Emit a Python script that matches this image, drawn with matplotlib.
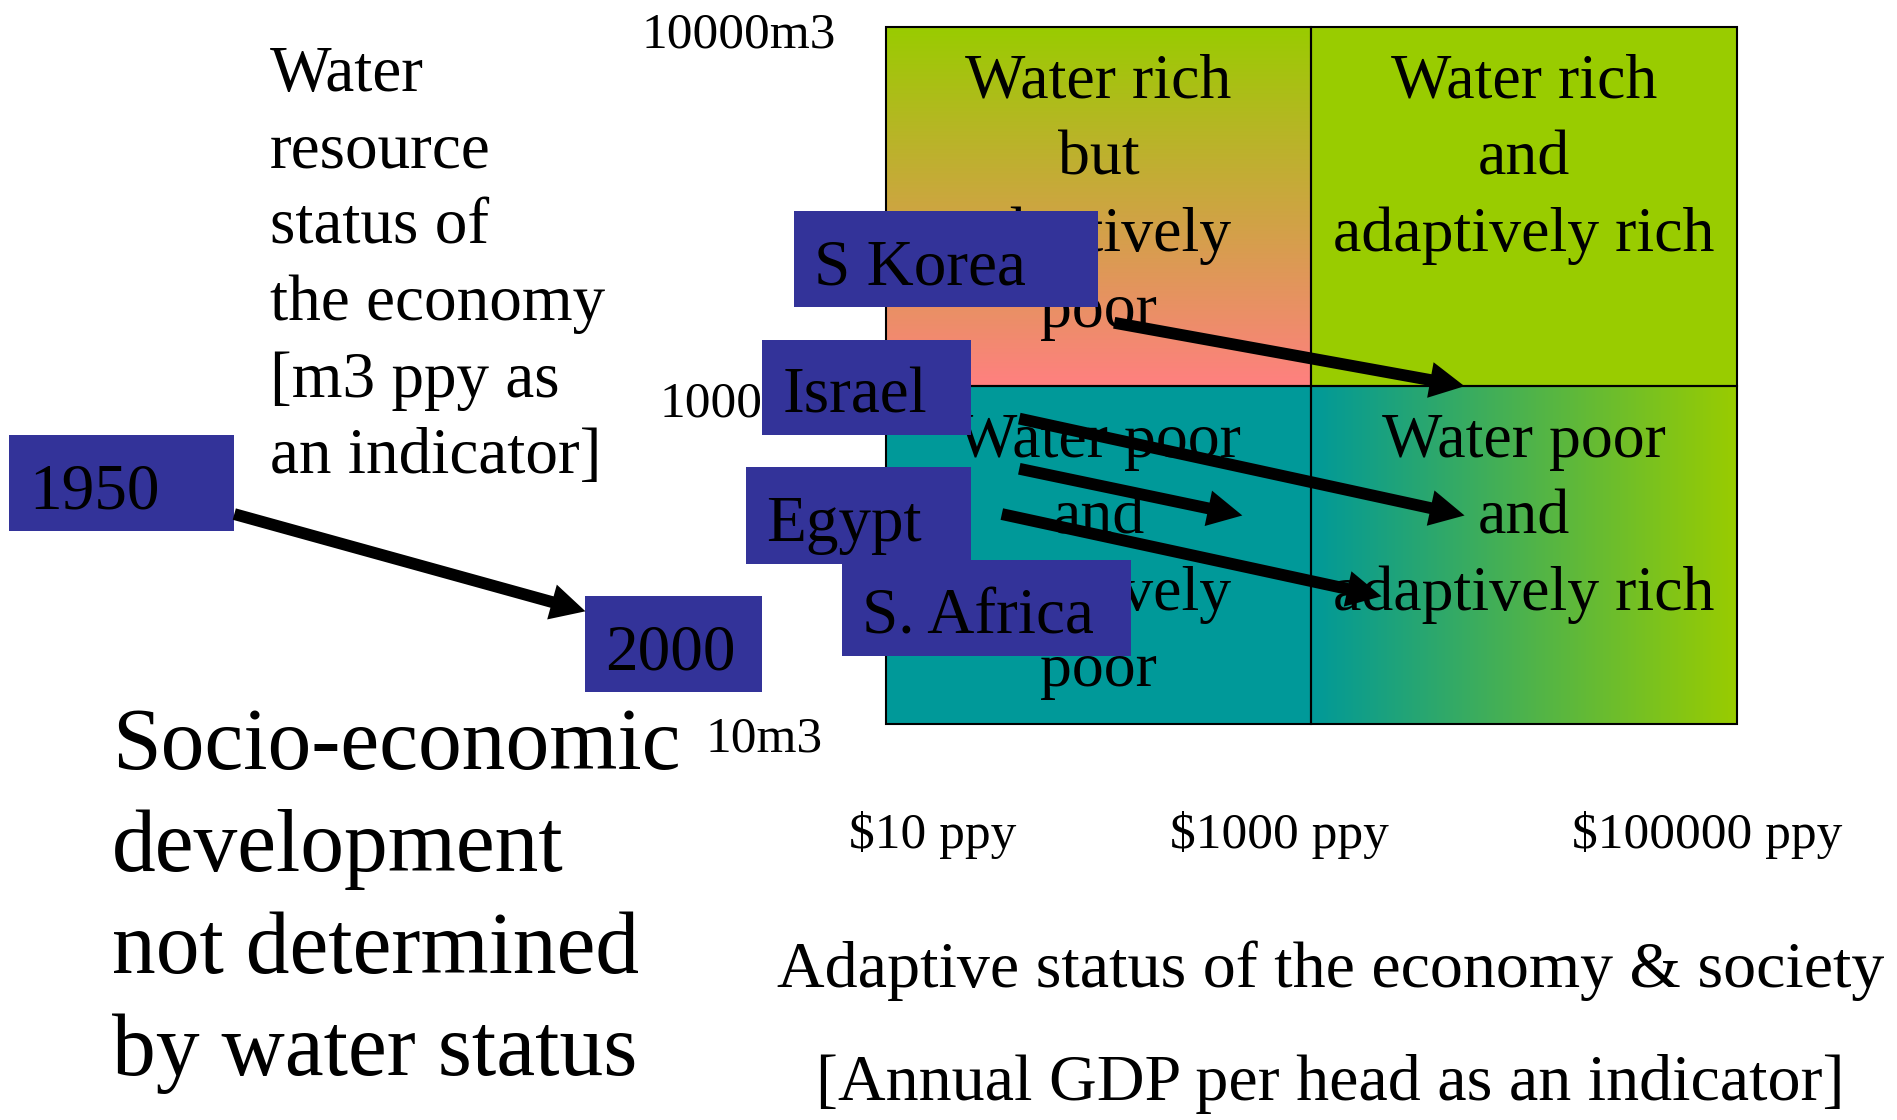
import numpy as np
import matplotlib
matplotlib.use("Agg")
import matplotlib.pyplot as plt
from matplotlib.patches import Rectangle
from matplotlib.colors import to_rgb

plt.rcParams['font.family'] = ['Liberation Serif', 'DejaVu Serif']

# ---- chart content ----
# quadrant cells: top-left, top-right, bottom-left, bottom-right
cell_labels = [
    ["Water rich", "but", "adaptively", "poor"],
    ["Water rich", "and", "adaptively rich"],
    ["Water poor", "and", "adaptively", "poor"],
    ["Water poor", "and", "adaptively rich"],
]
water_ticks = ["10000m3", "1000m3", "10m3"]
gdp_ticks = ["$10 ppy", "$1000 ppy", "$100000 ppy"]

water_title = ["Water", "resource", "status of", "the economy",
               "[m3 ppy as", "an indicator]"]
gdp_title = ["Adaptive status of the economy & society",
             "[Annual GDP per head as an indicator]"]
note_lines = ["Socio-economic", "development", "not determined",
              "by water status"]

# trajectories in quadrant units (x: adaptive status, y: water status)
traj_names = ["1950-2000", "S Korea", "Israel", "Egypt", "S. Africa"]
traj_x0 = [-1.53, 0.537, 0.314, 0.314, 0.273]
traj_y0 = [0.601, 1.150, 0.875, 0.731, 0.601]
traj_x1 = [-0.705, 1.36, 1.36, 0.838, 1.165]
traj_y1 = [0.322, 0.968, 0.597, 0.597, 0.365]

box_labels = ["1950", "2000", "S Korea", "Israel", "Egypt", "S. Africa"]

# ---- layout ----
x_edges = [0, 1, 2]
y_edges = [0, 0.969, 2]
box_x = [(-2.059, -1.530), (-0.705, -0.290), (-0.215, 0.500),
         (-0.290, 0.201), (-0.327, 0.201), (-0.102, 0.577)]
box_y = [(0.553, 0.827), (0.090, 0.365), (1.194, 1.471),
         (0.827, 1.102), (0.459, 0.735), (0.193, 0.468)]
wtick_x = [-0.573, -0.532, -0.422]
wtick_y = [1.939, 0.880, -0.081]
gtick_x = [0.111, 0.926, 1.929]
line_step = 0.2196

green = to_rgb('#99CC00')
pink = to_rgb('#FF8080')
teal = to_rgb('#009999')
navy = '#333399'

fig = plt.figure(figsize=(18.97, 11.2), dpi=100)
ax = fig.add_axes([0, 0, 1, 1])
ax.set_axis_off()

# cells
t = np.linspace(0, 1, 256)
vert = np.array([[(1 - s) * np.array(pink) + s * np.array(green)] for s in t])
ax.imshow(vert, extent=[x_edges[0], x_edges[1], y_edges[1], y_edges[2]],
          origin='lower', aspect='auto', interpolation='bilinear', zorder=1)
ax.add_patch(Rectangle((x_edges[1], y_edges[1]), 1, y_edges[2] - y_edges[1],
                       facecolor=green, edgecolor='none', zorder=1))
ax.add_patch(Rectangle((x_edges[0], y_edges[0]), 1, y_edges[1] - y_edges[0],
                       facecolor=teal, edgecolor='none', zorder=1))
horiz = np.array([[(1 - s) * np.array(teal) + s * np.array(green) for s in t]])
ax.imshow(horiz, extent=[x_edges[1], x_edges[2], y_edges[0], y_edges[1]],
          origin='lower', aspect='auto', interpolation='bilinear', zorder=1)

for i in range(2):
    for j in range(2):
        ax.add_patch(Rectangle((x_edges[j], y_edges[i]), x_edges[j + 1] - x_edges[j],
                               y_edges[i + 1] - y_edges[i], fill=False,
                               edgecolor='black', lw=1.5, zorder=2))

# cell text
cell_base = [1.796, 1.796, 0.765, 0.765]
for k, lines in enumerate(cell_labels):
    cx = x_edges[k % 2] + 0.5
    for n, s in enumerate(lines):
        ax.text(cx, cell_base[k] - n * line_step, s, ha='center', va='baseline',
                fontsize=46, zorder=3)

# axis labels
for s, x, y in zip(water_ticks, wtick_x, wtick_y):
    ax.text(x, y, s, ha='left', va='baseline', fontsize=37, zorder=3)
for s, x in zip(gdp_ticks, gtick_x):
    ax.text(x, -0.357, s, ha='center', va='baseline', fontsize=37, zorder=3)

for n, s in enumerate(water_title):
    ax.text(-1.447, 1.8155 - n * line_step, s, ha='left', va='baseline',
            fontsize=47, zorder=3)
ax.text(1.045, -0.756, gdp_title[0], ha='center', va='baseline', fontsize=47.5)
ax.text(1.045, -1.080, gdp_title[1], ha='center', va='baseline', fontsize=47.5)

for n, s in enumerate(note_lines):
    ax.text(-1.817, -0.131 - n * 0.2925, s, ha='left', va='baseline', fontsize=63)

# boxes
for s, (x0, x1), (y0, y1) in zip(box_labels, box_x, box_y):
    ax.add_patch(Rectangle((x0, y0), x1 - x0, y1 - y0, facecolor=navy,
                           edgecolor='none', zorder=4))
    ax.text(x0 + 0.047, (y0 + y1) / 2 - 0.072, s, ha='left', va='baseline',
            fontsize=47, zorder=5)

# arrows
for x0, y0, x1, y1 in zip(traj_x0, traj_y0, traj_x1, traj_y1):
    ax.annotate('', xy=(x1, y1), xytext=(x0, y0),
                arrowprops=dict(arrowstyle='simple,head_length=2.5,head_width=2.6,tail_width=0.85',
                                mutation_scale=10, color='black', lw=0,
                                shrinkA=0, shrinkB=0),
                zorder=6)

ax.set_xlim(-885.6 / 425.7, (1897 - 885.6) / 425.7)
ax.set_ylim((723.5 - 1120) / 348.45, 723.5 / 348.45)

fig.savefig('out.png', dpi=100)
